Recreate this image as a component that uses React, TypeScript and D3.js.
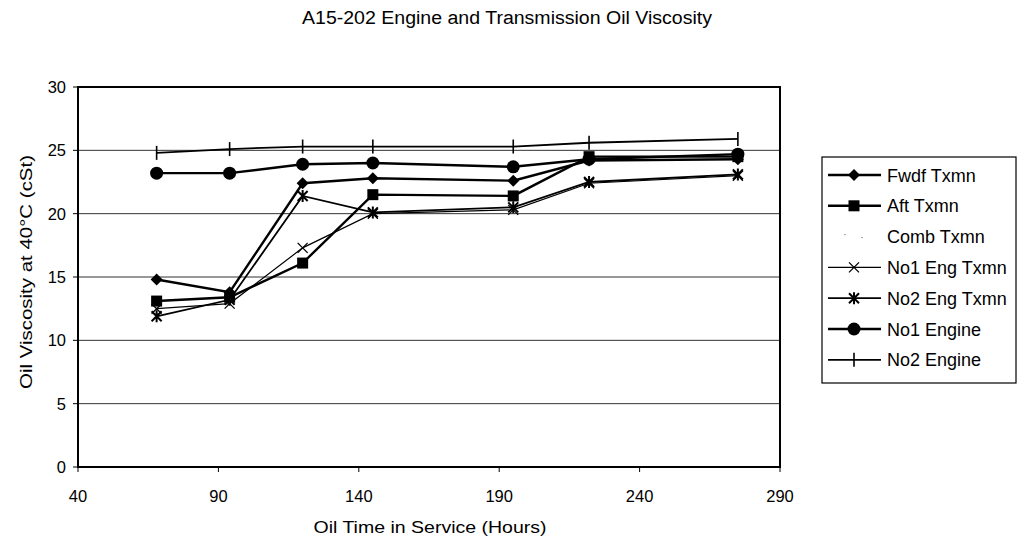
import React from "react";
import * as d3 from "d3";

const hours = [68, 94, 120, 145, 195, 222, 275];
const fwdfTxmn = [14.8, 13.8, 22.4, 22.8, 22.6, 24.2, 24.3];
const aftTxmn = [13.1, 13.4, 16.1, 21.5, 21.4, 24.5, 24.5];
const no1EngTxmn = [12.5, 12.9, 17.3, 20.0, 20.3, 22.4, 23.0];
const no2EngTxmn = [11.9, 13.2, 21.4, 20.1, 20.5, 22.5, 23.1];
const no1Engine = [23.2, 23.2, 23.9, 24.0, 23.7, 24.3, 24.7];
const no2Engine = [24.8, 25.1, 25.3, 25.3, 25.3, 25.6, 25.9];

const xTicks = [40, 90, 140, 190, 240, 290];
const yTicks = [0, 5, 10, 15, 20, 25, 30];

type Marker = "diamond" | "square" | "none" | "x" | "asterisk" | "circle" | "plus";
const seriesNames = ["Fwdf Txmn", "Aft Txmn", "Comb Txmn", "No1 Eng Txmn", "No2 Eng Txmn", "No1 Engine", "No2 Engine"];
const seriesValues: (number[] | null)[] = [fwdfTxmn, aftTxmn, null, no1EngTxmn, no2EngTxmn, no1Engine, no2Engine];
const seriesMarkers: Marker[] = ["diamond", "square", "none", "x", "asterisk", "circle", "plus"];
const seriesWidths = [2.4, 2.4, 0, 1.2, 1.8, 2.4, 1.8];

const FONT = "'Liberation Sans', Arial, sans-serif";

function MarkerShape({ type, cx, cy }: { type: Marker; cx: number; cy: number }) {
  switch (type) {
    case "diamond":
      return <path d={`M${cx},${cy - 6}L${cx + 6},${cy}L${cx},${cy + 6}L${cx - 6},${cy}Z`} fill="#000" />;
    case "square":
      return <rect x={cx - 5.5} y={cy - 5.5} width={11} height={11} fill="#000" />;
    case "circle":
      return <circle cx={cx} cy={cy} r={6.5} fill="#000" />;
    case "x":
      return (
        <path d={`M${cx - 5},${cy - 5}L${cx + 5},${cy + 5}M${cx - 5},${cy + 5}L${cx + 5},${cy - 5}`} stroke="#000" strokeWidth={1.3} />
      );
    case "asterisk":
      return (
        <path
          d={`M${cx - 5},${cy - 5}L${cx + 5},${cy + 5}M${cx - 5},${cy + 5}L${cx + 5},${cy - 5}M${cx},${cy - 6}L${cx},${cy + 6}`}
          stroke="#000"
          strokeWidth={2}
        />
      );
    case "plus":
      return <path d={`M${cx},${cy - 7}L${cx},${cy + 7}`} stroke="#000" strokeWidth={1.6} />;
    default:
      return null;
  }
}

export default function App() {
  const left = 78, right = 780, top = 87, bottom = 467;
  const x = d3.scaleLinear().domain([40, 290]).range([left, right]);
  const y = d3.scaleLinear().domain([0, 30]).range([bottom, top]);
  const line = d3
    .line<number>()
    .x((_, i) => x(hours[i]))
    .y((d) => y(d));

  const legX = 822, legY = 157, legW = 194, legH = 226;
  const rowY0 = 175, rowStep = 30.8;

  return (
    <svg width={1020} height={544} style={{ position: "absolute", left: 0, top: 0, background: "#fff" }} fontFamily={FONT}>
      <text x={507} y={24} textAnchor="middle" fontSize={18} textLength={410} lengthAdjust="spacingAndGlyphs">
        A15-202 Engine and Transmission Oil Viscosity
      </text>

      {yTicks.filter((t) => t > 0 && t < 30).map((t) => (
        <line key={t} x1={left} x2={right} y1={y(t)} y2={y(t)} stroke="#333" strokeWidth={1} />
      ))}

      <rect x={left} y={top} width={right - left} height={bottom - top} fill="none" stroke="#000" strokeWidth={2} />

      {yTicks.map((t) => (
        <g key={t}>
          <line x1={left - 5} x2={left} y1={y(t)} y2={y(t)} stroke="#000" />
          <text x={left - 12} y={y(t) + 6} textAnchor="end" fontSize={16.5}>
            {t}
          </text>
        </g>
      ))}
      {xTicks.map((t) => (
        <g key={t}>
          <line x1={x(t)} x2={x(t)} y1={bottom} y2={bottom + 5} stroke="#000" />
          <text x={x(t)} y={502} textAnchor="middle" fontSize={16.5}>
            {t}
          </text>
        </g>
      ))}

      <text x={430} y={533} textAnchor="middle" fontSize={17} textLength={233} lengthAdjust="spacingAndGlyphs">
        Oil Time in Service (Hours)
      </text>
      <text
        transform={`translate(32,272) rotate(-90)`}
        textAnchor="middle"
        fontSize={17}
        textLength={234}
        lengthAdjust="spacingAndGlyphs"
      >
        Oil Viscosity at 40°C (cSt)
      </text>

      {seriesValues.map((vals, si) =>
        vals ? (
          <g key={si}>
            <path d={line(vals) || ""} fill="none" stroke="#000" strokeWidth={seriesWidths[si]} />
            {vals.map((v, i) => (
              <MarkerShape key={i} type={seriesMarkers[si]} cx={x(hours[i])} cy={y(v)} />
            ))}
          </g>
        ) : null
      )}

      <rect x={legX} y={legY} width={legW} height={legH} fill="#fff" stroke="#000" strokeWidth={1.2} />
      {seriesNames.map((name, i) => {
        const ry = rowY0 + i * rowStep;
        return (
          <g key={name}>
            {seriesMarkers[i] !== "none" ? (
              <line x1={828} x2={881} y1={ry} y2={ry} stroke="#000" strokeWidth={seriesWidths[i]} />
            ) : (
              <g>
                <circle cx={845} cy={ry - 2} r={0.7} fill="#666" />
                <circle cx={862} cy={ry + 1} r={0.7} fill="#666" />
              </g>
            )}
            <MarkerShape type={seriesMarkers[i]} cx={854} cy={ry} />
            <text x={887} y={ry + 6.5} fontSize={18}>
              {name}
            </text>
          </g>
        );
      })}
    </svg>
  );
}
